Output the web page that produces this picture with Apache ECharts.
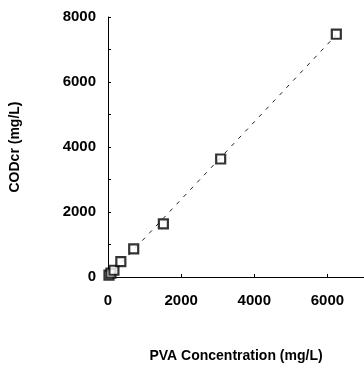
<!DOCTYPE html>
<html>
<head>
<meta charset="utf-8">
<script src="https://cdn.jsdelivr.net/npm/echarts@6/dist/echarts.min.js"></script>
<style>html,body{margin:0;padding:0;background:#fff}#c{width:364px;height:368px}</style>
</head>
<body>
<div id="c"></div>
<script>
var pvaConc = [27, 81, 162, 351, 703, 1514, 3081, 6243];
var codCr = [60, 119, 208, 476, 863, 1637, 3631, 7470];
var fitX = [0, 6243];
var fitY = [0, 7450];
var xTicks = [0, 2000, 4000, 6000];
var yTicks = [0, 2000, 4000, 6000, 8000];

var pts = pvaConc.map(function (x, i) { return [x, codCr[i]]; });
var fit = fitX.map(function (x, i) { return [x, fitY[i]]; });
var font = 'Liberation Sans, Arial, sans-serif';

var chart = echarts.init(document.getElementById('c'), null, {renderer: 'canvas'});
chart.setOption({
  animation: false,
  backgroundColor: '#fff',
  grid: {left: 106, right: 0, top: 17, bottom: 82},
  xAxis: {
    type: 'value', min: 0, max: 7000, interval: 2000,
    name: 'PVA Concentration (mg/L)', nameLocation: 'middle', nameGap: 72,
    nameTextStyle: {fontFamily: font, fontWeight: 'bold', fontSize: 14, color: '#000'},
    axisLine: {show: true, lineStyle: {color: '#000', width: 1}},
    axisTick: {show: true, inside: true, length: 3, lineStyle: {color: '#000'}},
    axisLabel: {fontFamily: font, fontWeight: 'bold', fontSize: 15, color: '#000', margin: 16, showMaxLabel: false,
      formatter: function (v) { return xTicks.indexOf(v) >= 0 ? String(v) : ''; }},
    splitLine: {show: false}
  },
  yAxis: {
    type: 'value', min: 0, max: 8000, interval: 2000,
    name: 'CODcr (mg/L)', nameLocation: 'middle', nameGap: 86,
    nameTextStyle: {fontFamily: font, fontWeight: 'bold', fontSize: 14, color: '#000'},
    axisLine: {show: true, lineStyle: {color: '#000', width: 1}},
    axisTick: {show: true, inside: true, length: 3, lineStyle: {color: '#000'}},
    minorTick: {show: true, splitNumber: 2, length: 3, lineStyle: {color: '#000'}},
    axisLabel: {fontFamily: font, fontWeight: 'bold', fontSize: 15, color: '#000', margin: 12,
      formatter: function (v) { return yTicks.indexOf(v) >= 0 ? String(v) : ''; }},
    splitLine: {show: false}
  },
  series: [
    {
      type: 'line', data: fit, showSymbol: false, symbol: 'none',
      lineStyle: {color: '#222', width: 1, type: [4, 6]}, z: 1
    },
    {
      type: 'scatter', data: pts, symbol: 'rect', symbolSize: 9,
      itemStyle: {color: '#fff', borderColor: '#000', borderWidth: 2.2}, z: 3
    }
  ]
});
</script>
</body>
</html>
